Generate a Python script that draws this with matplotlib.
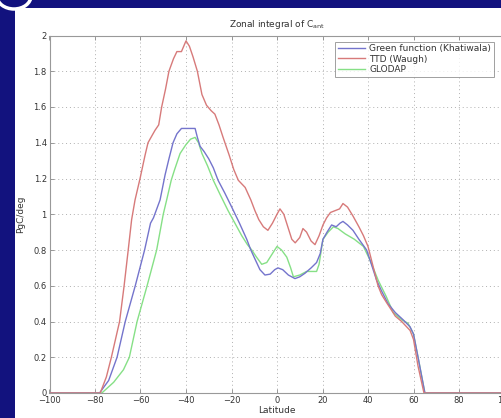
import matplotlib
matplotlib.use("Agg")
import matplotlib.pyplot as plt
from matplotlib.patches import Rectangle, Ellipse

# ---- data ----
ttd_lat = [-100, -77.7, -75, -72.8, -71, -69.2, -67.2, -65.4, -63.9, -62.4, -60.2, -58, -56.7, -54.5, -53.6, -52, -50.7,
           -49, -47.5, -45.5, -44, -42, -40, -38.5, -36.9, -35, -33, -31, -29, -27.3, -25.5, -23.7, -21,
           -19, -17, -14, -11.5, -9.7, -8, -6, -4, -2, 0, 1.3, 3, 5, 6.5, 8, 10, 11.4, 13, 15, 16.7, 18.5,
           20.2, 21.8, 23.5, 25.5, 27.5, 29, 31, 33.4, 36, 38, 40, 42, 44.4, 46, 48.2, 50, 52, 54.8, 57,
           58.5, 60, 62, 64.6, 100]
ttd_val = [0, 0, 0.09, 0.2, 0.3, 0.4, 0.6, 0.8, 0.97, 1.08, 1.2, 1.33, 1.4, 1.45, 1.47, 1.5, 1.6,
           1.7, 1.8, 1.87, 1.91, 1.91, 1.97, 1.94, 1.88, 1.8, 1.67, 1.61, 1.58, 1.56, 1.5, 1.43, 1.33,
           1.25, 1.19, 1.15, 1.08, 1.02, 0.97, 0.93, 0.91, 0.95, 1.0, 1.03, 1.0, 0.92, 0.86, 0.84, 0.87,
           0.92, 0.9, 0.85, 0.83, 0.88, 0.94, 0.98, 1.01, 1.02, 1.03, 1.06, 1.04, 0.99, 0.93, 0.88, 0.82,
           0.72, 0.6, 0.55, 0.505, 0.47, 0.43, 0.4, 0.37, 0.35, 0.3, 0.15, 0, 0]

green_fn_lat = [-100, -78, -74, -70.3, -66.7, -62.3, -58.2, -55.6, -54.3, -51.4, -49.2, -47.5,
                -45.7, -44, -42, -39, -36, -35, -33.8, -32, -30, -28, -25.9, -23, -19.9, -16.5,
                -13.3, -11.5, -9.7, -7.5, -5.3, -3, -1, 0.4, 2.5, 5, 7.9, 10, 12.3, 15, 17.4, 19, 20.2, 22,
                24, 26, 27.7, 29, 31, 33.4, 36, 39.4, 41.5, 43.8, 46, 48.8, 52, 55.4, 58.5, 60, 62, 65, 100]
green_fn_val = [0, 0, 0.07, 0.2, 0.4, 0.6, 0.8, 0.95, 0.98, 1.08, 1.22, 1.31,
                1.4, 1.45, 1.48, 1.48, 1.48, 1.43, 1.38, 1.35, 1.31, 1.26, 1.19, 1.12, 1.04, 0.95,
                0.86, 0.8, 0.75, 0.69, 0.66, 0.665, 0.69, 0.70, 0.69, 0.66, 0.64, 0.65, 0.67, 0.7, 0.73, 0.78,
                0.86, 0.9, 0.94, 0.93, 0.95, 0.96, 0.94, 0.91, 0.86, 0.8, 0.72, 0.63, 0.57, 0.5, 0.45, 0.41,
                0.37, 0.33, 0.2, 0, 0]

glodap_lat = [-100, -77, -71.8, -67.5, -64.9, -61.5, -57.1, -52.9, -50, -48.5, -46.5, -45,
              -42.6, -40, -38, -36, -34.5, -33, -30.5, -28, -25, -21.5, -18.5, -15.5, -13, -11.1, -9, -6.7,
              -4.5, -2, 0, 2, 4.3, 6, 7.2, 10, 13, 15, 17.4, 18.5, 20.2, 22.5, 24.8, 26.8, 30, 34, 38, 41,
              44.5, 48, 51.1, 54.8, 57.6, 60, 62, 65, 100]
glodap_val = [0, 0, 0.06, 0.13, 0.2, 0.4, 0.6, 0.8, 1.0, 1.08, 1.19, 1.25,
              1.34, 1.39, 1.42, 1.43, 1.4, 1.34, 1.27, 1.19, 1.11, 1.02, 0.95, 0.88, 0.83, 0.8, 0.76, 0.72,
              0.73, 0.78, 0.82, 0.8, 0.76, 0.7, 0.65, 0.66, 0.68, 0.68, 0.68, 0.72, 0.86, 0.9, 0.93, 0.92,
              0.89, 0.86, 0.82, 0.74, 0.63, 0.54, 0.45, 0.41, 0.39, 0.33, 0.2, 0, 0]

series_labels = ["Green function (Khatiwala)", "TTD (Waugh)", "GLODAP"]
series_colors = ["#7474cc", "#d77a7a", "#86e086"]
x_ticks = [-100, -80, -60, -40, -20, 0, 20, 40, 60, 80, 100]
y_ticks = [0, 0.2, 0.4, 0.6, 0.8, 1, 1.2, 1.4, 1.6, 1.8, 2]
y_ticklabels = ["0", "0.2", "0.4", "0.6", "0.8", "1", "1.2", "1.4", "1.6", "1.8", "2"]

W, H = 501, 418
fig = plt.figure(figsize=(W / 100, H / 100), dpi=100)
fig.patch.set_facecolor("#12127e")

# slide white panel (behind the axes)
fig.patches.append(Rectangle((15 / W, 0), 1 - 15 / W, (H - 8) / H, transform=fig.transFigure,
                             facecolor="white", edgecolor="none", zorder=-10))
fig.patches.append(Ellipse((14 / W, (H + 4) / H), 34 / W, 26 / H, transform=fig.transFigure,
                           facecolor="none", edgecolor="white", lw=2.5, zorder=-9))

left, right, bottom, top = 49.5, 504.5, 393, 35.5
ax = fig.add_axes([left / W, (H - bottom) / H, (right - left) / W, (bottom - top) / H])
ax.set_facecolor("white")

ax.plot(green_fn_lat, green_fn_val, color=series_colors[0], lw=1.0, label=series_labels[0], zorder=3)
ax.plot(ttd_lat, ttd_val, color=series_colors[1], lw=1.0, label=series_labels[1], zorder=3)
ax.plot(glodap_lat, glodap_val, color=series_colors[2], lw=1.0, label=series_labels[2], zorder=2)

ax.set_xlim(-100, 100)
ax.set_ylim(0, 2)
ax.set_xticks(x_ticks)
ax.set_yticks(y_ticks)
ax.set_yticklabels(y_ticklabels)
ax.grid(True, linestyle=(0, (1, 3)), color="#b0b0b0", lw=0.7)
ax.tick_params(direction="in", length=3, width=0.6, colors="#888888", labelcolor="#333333",
               labelsize=6, top=True, right=True, pad=2)
for s in ax.spines.values():
    s.set_color("#999999")
    s.set_linewidth(0.8)

ax.set_title("Zonal integral of C$_{\\mathregular{ant}}$", fontsize=6.5, color="#333333", pad=6)
ax.set_xlabel("Latitude", fontsize=6.5, color="#333333", labelpad=1)
ax.set_ylabel("PgC/deg", fontsize=6.5, color="#333333", labelpad=6)

leg = ax.legend(loc="upper left", bbox_to_anchor=((335 - left) / (right - left), 1 - (41.5 - top) / (bottom - top)),
                fontsize=6.5, frameon=True, fancybox=False, edgecolor="#888888",
                handlelength=3.0, handletextpad=0.5, borderpad=0.3, labelspacing=0.15, borderaxespad=0)
leg.get_frame().set_linewidth(0.7)
for t in leg.get_texts():
    t.set_color("#333333")

fig.savefig("out.png", dpi=100, facecolor=fig.get_facecolor())
